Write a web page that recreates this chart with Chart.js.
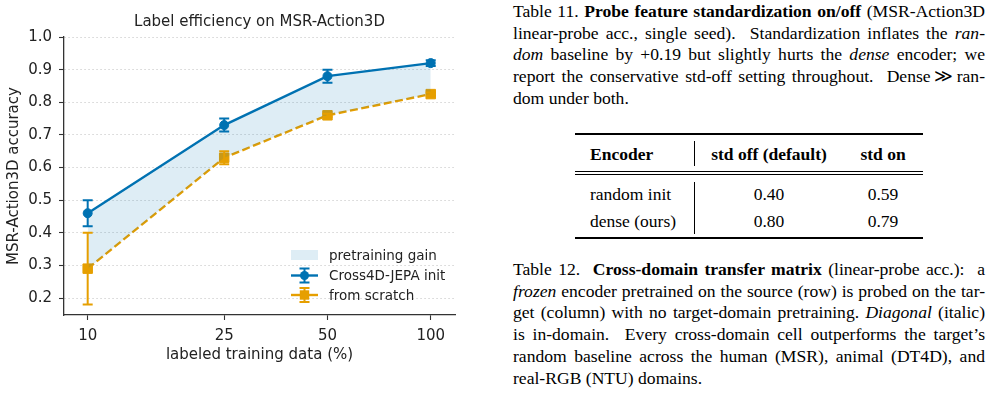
<!DOCTYPE html>
<html lang="en">
  <head>
    <meta charset="UTF-8" />
    <title>Label efficiency on MSR-Action3D</title>
    <style>
      body {
        margin: 0;
        width: 992px;
        height: 398px;
        background: #fff;
        position: relative;
        overflow: hidden;
        font-family: "Liberation Serif", "DejaVu Serif", serif;
        color: #000;
      }
      #chartBox { position: absolute; left: 0; top: 0; width: 480px; height: 398px; }
      .cap { position: absolute; left: 513px; width: 472px; font-size: 17.6px; line-height: 21.7px; }
      .cap span { display: inline-block; white-space: nowrap; }
      .t { position: absolute; font-size: 17.5px; line-height: 22px; white-space: nowrap; }
      .c { transform: translateX(-50%); }
      .rule { position: absolute; background: #000; }
    </style>
  </head>
  <body>
    <div id="chartBox"><canvas id="myChart"></canvas></div>

    <div class="cap" style="top: 1px">
      <div><span class="j">Table 11. <b>Probe feature standardization on/off</b> (MSR-Action3D</span></div>
      <div><span class="j">linear-probe acc., single seed). &nbsp;Standardization inflates the <i>ran-</i></span></div>
      <div><span class="j"><i>dom</i> baseline by +0.19 but slightly hurts the <i>dense</i> encoder; we</span></div>
      <div><span class="j">report the conservative std-off setting throughout. &nbsp;Dense&thinsp;&#8811;&thinsp;ran-</span></div>
      <div><span>dom under both.</span></div>
    </div>

    <div class="rule" style="left: 575px; top: 133px; width: 348px; height: 1.5px"></div>
    <div class="t" style="left: 590px; top: 143px"><b>Encoder</b></div>
    <div class="t c" style="left: 769px; top: 143px"><b>std off (default)</b></div>
    <div class="t c" style="left: 883px; top: 143px"><b>std on</b></div>
    <div class="rule" style="left: 694px; top: 141px; width: 1px; height: 25px"></div>
    <div class="rule" style="left: 575px; top: 171px; width: 348px; height: 1px"></div>
    <div class="rule" style="left: 575px; top: 174px; width: 348px; height: 1px"></div>
    <div class="rule" style="left: 694px; top: 182px; width: 1px; height: 52px"></div>
    <div class="t" style="left: 590px; top: 183px">random init</div>
    <div class="t c" style="left: 769px; top: 183px">0.40</div>
    <div class="t c" style="left: 883px; top: 183px">0.59</div>
    <div class="t" style="left: 590px; top: 210px">dense (ours)</div>
    <div class="t c" style="left: 769px; top: 210px">0.80</div>
    <div class="t c" style="left: 883px; top: 210px">0.79</div>
    <div class="rule" style="left: 575px; top: 237px; width: 348px; height: 1.5px"></div>

    <div class="cap" style="top: 259px">
      <div><span class="j">Table 12. &nbsp;<b>Cross-domain transfer matrix</b> (linear-probe acc.): &nbsp;a</span></div>
      <div><span class="j"><i>frozen</i> encoder pretrained on the source (row) is probed on the tar-</span></div>
      <div><span class="j">get (column) with no target-domain pretraining. <i>Diagonal</i> (italic)</span></div>
      <div><span class="j">is in-domain. &nbsp;Every cross-domain cell outperforms the target’s</span></div>
      <div><span class="j">random baseline across the human (MSR), animal (DT4D), and</span></div>
      <div><span>real-RGB (NTU) domains.</span></div>
    </div>

    <script src="https://cdn.jsdelivr.net/npm/chart.js"></script>
    <script>
      const pcts = [10, 25, 50, 100];
      const jepaAcc = [0.46, 0.73, 0.88, 0.92];
      const jepaErr = [0.04, 0.02, 0.02, 0.009];
      const scratchAcc = [0.29, 0.63, 0.76, 0.825];
      const scratchErr = [0.11, 0.02, 0.005, 0.005];
      const yTicks = [0.2, 0.3, 0.4, 0.5, 0.6, 0.7, 0.8, 0.9, 1.0];
      const xTicks = [10, 25, 50, 100];
      const legendLabels = ["pretraining gain", "Cross4D-JEPA init", "from scratch"];

      // stretch each caption line to the full column width, like LaTeX justification
      document.querySelectorAll(".cap span.j").forEach((el) => {
        const w = el.getBoundingClientRect().width;
        const n = (el.textContent.match(/[ \u00a0]/g) || []).length;
        el.style.wordSpacing = (472 - w) / n + "px";
      });

      const blue = "#0072B2";
      const orange = "#E69F00";
      const gainFill = "rgba(0, 114, 178, 0.13)";
      const sans = "'DejaVu Sans', sans-serif";
      const fs = 15;

      const pts = (vals) => vals.map((v, i) => ({ x: pcts[i], y: v }));

      const errorBars = {
        id: "errorBars",
        afterDatasetsDraw(chart) {
          const { ctx, scales: { x, y } } = chart;
          [[jepaAcc, jepaErr, blue], [scratchAcc, scratchErr, orange]].forEach(([vals, errs, color]) => {
            ctx.save();
            ctx.strokeStyle = color;
            ctx.lineWidth = 2;
            vals.forEach((v, i) => {
              const px = x.getPixelForValue(pcts[i]);
              const top = y.getPixelForValue(v + errs[i]);
              const bot = y.getPixelForValue(v - errs[i]);
              ctx.beginPath();
              ctx.moveTo(px, top); ctx.lineTo(px, bot);
              ctx.moveTo(px - 5, top); ctx.lineTo(px + 5, top);
              ctx.moveTo(px - 5, bot); ctx.lineTo(px + 5, bot);
              ctx.stroke();
            });
            ctx.restore();
          });
        },
      };

      // legend drawn inside the axes, lower right
      const innerLegend = {
        id: "innerLegend",
        afterDraw(chart) {
          const { ctx, chartArea } = chart;
          const x0 = chartArea.right - 164, tx = x0 + 38;
          const rows = [chartArea.bottom - 60, chartArea.bottom - 39.5, chartArea.bottom - 20];
          ctx.save();
          ctx.font = "13.5px " + sans;
          ctx.textBaseline = "middle";
          ctx.fillStyle = gainFill;
          ctx.fillRect(x0, rows[0] - 5, 27, 10);
          [[blue, "circle"], [orange, "rect"]].forEach(([color, style], k) => {
            const yy = rows[k + 1], cx = x0 + 13.5;
            ctx.strokeStyle = color;
            ctx.lineWidth = 2.4;
            ctx.beginPath(); ctx.moveTo(x0, yy); ctx.lineTo(x0 + 27, yy); ctx.stroke();
            ctx.lineWidth = 2;
            ctx.beginPath();
            ctx.moveTo(cx, yy - 7); ctx.lineTo(cx, yy + 7);
            ctx.moveTo(cx - 5, yy - 7); ctx.lineTo(cx + 5, yy - 7);
            ctx.moveTo(cx - 5, yy + 7); ctx.lineTo(cx + 5, yy + 7);
            ctx.stroke();
            ctx.fillStyle = color;
            if (style === "circle") {
              ctx.beginPath(); ctx.arc(cx, yy, 4.5, 0, Math.PI * 2); ctx.fill();
            } else {
              ctx.fillRect(cx - 4.7, yy - 4.7, 9.4, 9.4);
            }
          });
          ctx.fillStyle = "#222";
          legendLabels.forEach((t, k) => ctx.fillText(t, tx, rows[k] + 1));
          ctx.restore();
        },
      };

      const config = {
        type: "line",
        data: {
          datasets: [
            {
              label: legendLabels[0],
              data: pts(jepaAcc),
              borderWidth: 0,
              pointRadius: 0,
              backgroundColor: gainFill,
              fill: "+2",
            },
            {
              label: legendLabels[1],
              data: pts(jepaAcc),
              borderColor: blue,
              backgroundColor: blue,
              borderWidth: 2.4,
              pointStyle: "circle",
              pointRadius: 4.5,
              pointBorderWidth: 1,
              fill: false,
            },
            {
              label: legendLabels[2],
              data: pts(scratchAcc),
              borderColor: orange,
              backgroundColor: orange,
              borderWidth: 2.4,
              borderDash: [8, 3.5],
              pointStyle: "rect",
              pointRadius: 6.7,
              pointBorderWidth: 1,
              fill: false,
            },
          ],
        },
        options: {
          responsive: true,
          maintainAspectRatio: false,
          animation: false,
          layout: { padding: { left: 0, right: 25, top: 0, bottom: 0 } },
          plugins: {
            legend: { display: false },
            tooltip: { enabled: false },
            title: {
              display: true,
              fullSize: false,
              text: "Label efficiency on MSR-Action3D",
              color: "#222",
              font: { family: sans, size: fs, weight: "normal" },
              padding: { top: 13, bottom: 6 },
            },
          },
          scales: {
            x: {
              type: "logarithmic",
              min: 8.53,
              max: 117.7,
              afterBuildTicks: (s) => { s.ticks = xTicks.map((v) => ({ value: v })); },
              afterFit: (s) => { s.height = 83; },
              ticks: {
                callback: (v) => String(v),
                color: "#222",
                font: { family: sans, size: fs },
                padding: 7,
                maxRotation: 0,
              },
              grid: { drawOnChartArea: false, tickLength: 5, tickColor: "#333", tickWidth: 1.1 },
              border: { color: "#333", width: 1.3 },
              title: {
                display: true,
                text: "labeled training data (%)",
                color: "#222",
                font: { family: sans, size: fs },
                padding: { top: 0, bottom: 34 },
              },
            },
            y: {
              min: 0.148,
              max: 1.0,
              afterBuildTicks: (s) => { s.ticks = yTicks.map((v) => ({ value: v })); },
              afterFit: (s) => { s.width = 64; },
              ticks: {
                callback: (v) => v.toFixed(1),
                color: "#222",
                font: { family: sans, size: fs },
                padding: 7,
              },
              grid: { color: "#d4d4d4", lineWidth: 1, tickLength: 5, tickColor: "#333", tickWidth: 1.1 },
              border: { color: "#333", width: 1.3, dash: [1.5, 2.5] },
              title: {
                display: true,
                text: "MSR-Action3D accuracy",
                color: "#222",
                font: { family: sans, size: fs },
                padding: { top: 5, bottom: 0 },
              },
            },
          },
        },
        plugins: [errorBars, innerLegend],
      };

      const myChart = new Chart(document.getElementById("myChart"), config);
    </script>
  </body>
</html>
